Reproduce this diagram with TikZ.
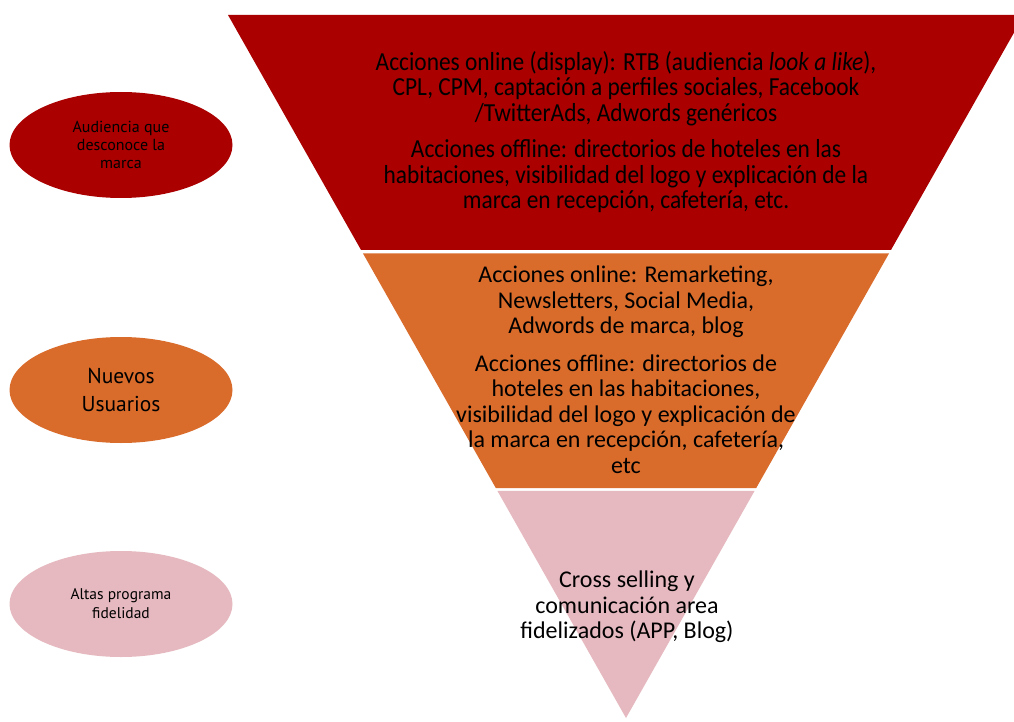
\documentclass[tikz,border=0pt]{standalone}
\usepackage{fontspec}
\setmainfont{Carlito}
\newfontfamily\condfont[FakeStretch=0.9]{Carlito}
\newfontfamily\labelfont{PT Sans}
\usetikzlibrary{calc,shapes.geometric}
\definecolor{bandred}{HTML}{AA0000}
\definecolor{bandorange}{HTML}{D96B2B}
\definecolor{bandpink}{HTML}{E5B9BF}
\tikzset{
  audience/.style={ellipse, draw=none, minimum width=223pt, minimum height=106pt, inner sep=0pt, align=center, text=black},
  bandtext/.style={align=center, text=black, inner sep=0pt}
}
\begin{document}
\begin{tikzpicture}[x=1pt,y=-1pt]
  \useasboundingbox (0,0) rectangle (1014,722);
  \fill[white] (0,0) rectangle (1014,722);
  % funnel outline
  \coordinate (TL) at (228,15);
  \coordinate (TR) at (1024,15);
  \coordinate (A) at (626,718);
  % bands of the funnel
  \fill[bandred]    (TL) -- (TR) -- ($(TR)!0.334!(A)$) -- ($(TL)!0.334!(A)$) -- cycle;
  \fill[bandorange] ($(TL)!0.339!(A)$) -- ($(TR)!0.339!(A)$) -- ($(TR)!0.673!(A)$) -- ($(TL)!0.673!(A)$) -- cycle;
  \fill[bandpink]   ($(TL)!0.677!(A)$) -- ($(TR)!0.677!(A)$) -- (A) -- cycle;
  % texts in the bands
  \node[bandtext, font=\condfont\fontsize{26}{25.5}\selectfont] (t1) at (626,132)
    {Acciones online (display): RTB (audiencia \textit{look a like}),\\
     CPL, CPM, captación a perfiles sociales, Facebook\\
     /TwitterAds, Adwords genéricos\\[11pt]
     Acciones offline: directorios de hoteles en las\\
     habitaciones, visibilidad del logo y explicación de la\\
     marca en recepción, cafetería, etc.};
  \node[bandtext, font=\fontsize{24}{25.5}\selectfont] (t2) at (626,370)
    {Acciones online: Remarketing,\\
     Newsletters, Social Media,\\
     Adwords de marca, blog\\[12pt]
     Acciones offline: directorios de\\
     hoteles en las habitaciones,\\
     visibilidad del logo y explicación de\\
     la marca en recepción, cafetería,\\
     etc};
  \node[bandtext, font=\fontsize{24}{25.5}\selectfont] (t3) at (627,607)
    {Cross selling y\\
     comunicación area\\
     fidelizados (APP, Blog)};
  % audience segments
  \node[audience, fill=bandred, font=\labelfont\fontsize{16}{18}\selectfont] (s1) at (121,145)
    {Audiencia que\\desconoce la\\marca};
  \node[audience, fill=bandorange, font=\labelfont\fontsize{21.5}{28}\selectfont] (s2) at (121,390)
    {Nuevos\\Usuarios};
  \node[audience, fill=bandpink, font=\labelfont\fontsize{15.5}{19}\selectfont] (s3) at (121,604)
    {Altas programa\\fidelidad};
\end{tikzpicture}
\end{document}
